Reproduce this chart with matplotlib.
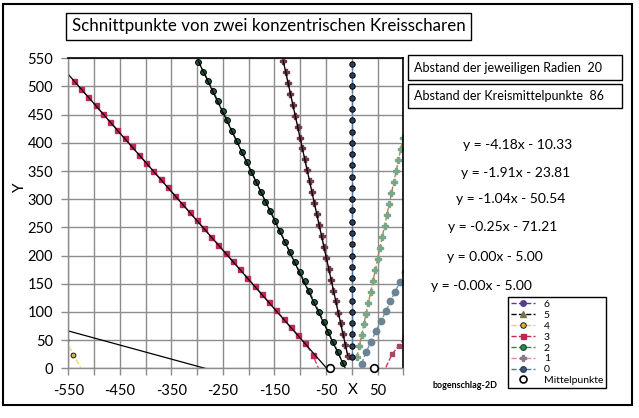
import matplotlib.pyplot as plt
from matplotlib.lines import Line2D
from matplotlib.patches import Rectangle
import numpy as np

plt.rcParams['font.family'] = ['Lato', 'DejaVu Sans']
plt.rcParams['axes.unicode_minus'] = False

# circle centres and the two parameters shown in the boxes
centre_x = [-43, 43]
centre_y = [0, 0]
radius_step = 20
centre_dist = 86

# family 0: perpendicular bisector (x = 0)
s0_y = [20, 40, 60, 80, 100, 120, 140, 160, 180, 200, 220, 240, 260, 280,
        300, 320, 340, 360, 380, 400, 420, 440, 460, 480, 500, 520, 540]
s0_x = [0] * len(s0_y)

# family 1, left branch
s1l_x = [-132.9, -128.3, -123.5, -119.0, -114.2, -109.6, -105.1, -100.3,
         -95.8, -91.2, -86.4, -81.9, -77.1, -72.6, -68.0, -63.2, -58.7,
         -54.1, -49.4, -44.8, -40.0, -35.5, -30.9, -26.2, -21.6, -16.8,
         -12.3, -7.5]
s1l_y = [545, 526, 506, 487, 467, 448, 429, 409, 390, 371, 351, 332, 312,
         293, 274, 254, 235, 216, 196, 177, 157, 138, 119, 99, 80, 60, 41, 21]
# family 1, right branch
s1r_x = [10.0, 14.5, 19.0, 23.4, 27.9, 32.4, 36.9, 41.3, 45.8, 50.3, 54.8,
         59.2, 63.7, 68.2, 72.7, 77.1, 81.6, 86.1, 90.6, 95.0, 99.5]
s1r_y = [19.5, 38.9, 58.4, 77.8, 97.2, 116.7, 136.1, 155.5, 174.9, 194.4,
         213.8, 233.2, 252.7, 272.1, 291.5, 310.9, 330.4, 349.8, 369.2,
         388.7, 408.1]

# family 2, left branch
s2l_x = [-297.5, -287.8, -278.1, -268.4, -260.0, -250.3, -241.2, -232.2,
         -223.1, -213.4, -203.7, -194.6, -185.6, -176.5, -167.4, -157.7,
         -148.0, -139.0, -129.3, -120.8, -111.1, -101.4, -91.7, -82.6, -72.9,
         -63.2, -54.8, -45.8, -36.7, -27.0, -17.3]
s2l_y = [544.1, 526.3, 509.8, 492.0, 474.3, 456.5, 440.6, 421.1, 403.3,
         384.4, 366.6, 348.9, 331.2, 313.4, 295.7, 279.1, 261.4, 243.6,
         224.7, 207.0, 189.2, 171.5, 154.9, 137.2, 118.3, 100.5, 82.8, 65.0,
         47.3, 29.6, 8.8]
# family 2, right branch
s2r_x = [19, 28, 37, 47, 57, 66, 75, 84, 94, 103]
s2r_y = [8, 29, 47, 66, 84, 101, 119, 136, 154, 171]

# family 3, left branch
s3l_x = [-539.0, -525.0, -511.0, -496.9, -482.9, -468.9, -454.9, -440.9,
         -426.8, -412.8, -398.8, -384.8, -370.8, -356.7, -342.7, -328.7,
         -314.7, -300.7, -286.6, -272.6, -258.6, -244.6, -230.6, -216.5,
         -202.5, -188.5, -174.5, -160.5, -146.4, -132.4, -118.4, -104.4,
         -90.4, -75.5, -60.0]
s3l_y = [510.0, 495.5, 480.9, 466.4, 451.8, 437.3, 422.7, 408.2, 393.6,
         379.1, 364.5, 350.0, 335.4, 320.9, 306.3, 291.8, 277.2, 262.7,
         248.1, 233.6, 219.0, 204.5, 189.9, 175.4, 160.8, 146.3, 131.7,
         117.2, 102.6, 88.1, 73.5, 59.0, 44.4, 23.5, -10.0]
# family 3, right branch
s3r_x = [60, 78, 91, 104]
s3r_y = [-10, 24.5, 40, 55]

# family 4
s4_x = [-555, -540, -522]
s4_y = [50, 23, -5]

# trendlines (slope, intercept) and the x-range they span
fit_slope = [-4.18, -1.91, -1.04, -0.25, 0.00, -0.00]
fit_icpt = [-10.33, -23.81, -50.54, -71.21, -5.00, -5.00]
fit_lo = [-133, -298, -560, -560, -560, -560]
fit_hi = [-8, -11, -45, -200, 100, 100]
fit_text_x = [518, 516, 511, 503, 495, 481]
fit_text_y = [145, 173, 199, 227, 257, 286]

legend_labels = ['6', '5', '4', '3', '2', '1', '0', 'Mittelpunkte']

W, H = 639, 418
fig = plt.figure(figsize=(W / 100, H / 100), dpi=100)
ax = fig.add_axes([68.3 / W, 1 - 368.3 / H, 335 / W, 310 / H])

ax.set_xlim(-550, 100)
ax.set_ylim(0, 550)
ax.set_xticks(np.arange(-550, 101, 50))
ax.set_xticklabels([str(v) if (v + 550) % 100 == 0 else '' for v in range(-550, 101, 50)])
ax.set_yticks(np.arange(0, 551, 50))
ax.grid(True, color='#8c8c8c', lw=1)
ax.set_axisbelow(True)
ax.tick_params(direction='out', length=5, width=1, color='#8c8c8c',
               labelsize=10.5, pad=6)
for s in ['top', 'right']:
    ax.spines[s].set_color('black')
    ax.spines[s].set_linewidth(1.2)
for s in ['left', 'bottom']:
    ax.spines[s].set_color('#8c8c8c')
    ax.spines[s].set_linewidth(1)

# series
ax.plot(s4_x, s4_y, ls='--', color='#f0d67a', lw=1, marker='o', ms=3.5,
        mfc='#d9b43a', mec='black', mew=0.6)
ax.plot(s3l_x, s3l_y, ls='--', color='#e0406a', lw=1, marker='s', ms=3.6,
        mfc='#c0285a', mec='#c0285a')
ax.plot(s3r_x, s3r_y, ls='--', color='#e0304a', lw=1, marker='s', ms=2.6,
        mfc='#a84860', mec='#a84860')
ax.plot(s2l_x, s2l_y, ls='--', color='#2e8b57', lw=1, marker='o', ms=4.2,
        mfc='#1f5a3c', mec='black', mew=0.7)
ax.plot(s2r_x, s2r_y, ls='--', color='#7a92a2', lw=1, marker='o', ms=4.6,
        mfc='#6b8494', mec='#6b8494')
ax.plot(s1l_x, s1l_y, ls='--', color='#e08aa0', lw=1, marker='P', ms=4.2,
        mfc='#6e3a4c', mec='#6e3a4c')
ax.plot(s1r_x, s1r_y, ls='--', color='#c87a40', lw=1, marker='P', ms=4.2,
        mfc='#78a888', mec='#78a888')
ax.plot(s0_x, s0_y, ls='--', color='#4a7ab5', lw=1, marker='o', ms=3.9,
        mfc='#2c3e58', mec='black', mew=0.7)

# trendlines
for k in range(len(fit_slope)):
    xs = np.array([fit_lo[k], fit_hi[k]])
    ax.plot(xs, fit_slope[k] * xs + fit_icpt[k], color='black', lw=0.9)
    sign = '-' if fit_icpt[k] < 0 else '+'
    fig.text(fit_text_x[k] / W, 1 - fit_text_y[k] / H,
             f'y = {fit_slope[k]:.2f}x {sign} {abs(fit_icpt[k]):.2f}',
             ha='center', va='center', fontsize=10)

ax.plot(centre_x, centre_y, ls='none', marker='o', ms=5.5, mfc='white',
        mec='black', mew=1.2, clip_on=False, zorder=5)

# labels
fig.text(353 / W, 1 - 390 / H, 'X', ha='center', va='center', fontsize=11)
fig.text(20 / W, 1 - 187 / H, 'Y', ha='center', va='center', fontsize=11,
         rotation=90)
fig.text(268.5 / W, 1 - 26.5 / H, 'Schnittpunkte von zwei konzentrischen Kreisscharen',
         ha='center', va='center', fontsize=12.2,
         bbox=dict(boxstyle='square,pad=0.32', fc='white', ec='black', lw=1))

fig.add_artist(Rectangle((408 / W, 1 - 80 / H), 214 / W, 25 / H,
                         transform=fig.transFigure, fill=False, ec='black', lw=1))
fig.add_artist(Rectangle((408 / W, 1 - 108 / H), 214 / W, 24 / H,
                         transform=fig.transFigure, fill=False, ec='black', lw=1))
fig.text(414 / W, 1 - 67.5 / H, f'Abstand der jeweiligen Radien  {radius_step}',
         ha='left', va='center', fontsize=9)
fig.text(414 / W, 1 - 96 / H, f'Abstand der Kreismittelpunkte  {centre_dist}',
         ha='left', va='center', fontsize=9)
fig.text(465 / W, 1 - 385 / H, 'bogenschlag-2D', ha='center', va='center',
         fontsize=6.5, fontweight='bold')

# legend
handles = [
    Line2D([], [], ls='--', color='#5a3d8a', lw=1, marker='o', ms=4, mfc='#5a3d8a', mec='#5a3d8a'),
    Line2D([], [], ls='--', color='black', lw=1, marker='^', ms=4, mfc='#7a7050', mec='#7a7050'),
    Line2D([], [], ls='--', color='#e8d070', lw=1, marker='o', ms=4, mfc='#d9b030', mec='black', mew=0.6),
    Line2D([], [], ls='--', color='#c0284f', lw=1, marker='s', ms=3.6, mfc='#c0284f', mec='#c0284f'),
    Line2D([], [], ls='--', color='#2e8b4f', lw=1, marker='o', ms=4, mfc='#2e8b4f', mec='#1f5a3c'),
    Line2D([], [], ls='--', color='#e08aa0', lw=1, marker='P', ms=4, mfc='#8a7a90', mec='#8a7a90'),
    Line2D([], [], ls='--', color='#4a78b0', lw=1, marker='o', ms=4, mfc='#3b5a7a', mec='#2c3e58'),
    Line2D([], [], ls='none', marker='o', ms=5, mfc='white', mec='black', mew=1.2),
]
leg = fig.legend(handles, legend_labels, loc='upper left',
                 bbox_to_anchor=(508.3 / W, 1 - 296.7 / H), fontsize=7.5,
                 frameon=True, fancybox=False, edgecolor='black', framealpha=1,
                 handlelength=2.3, handletextpad=0.8, labelspacing=0.15,
                 borderpad=0.3, borderaxespad=0, numpoints=1)
leg.get_frame().set_linewidth(1)

fig.add_artist(Rectangle((3 / W, 1 - 405 / H), 629 / W, 401 / H,
                         transform=fig.transFigure, fill=False, ec='black', lw=1.5))

fig.savefig('out.png', dpi=100)
